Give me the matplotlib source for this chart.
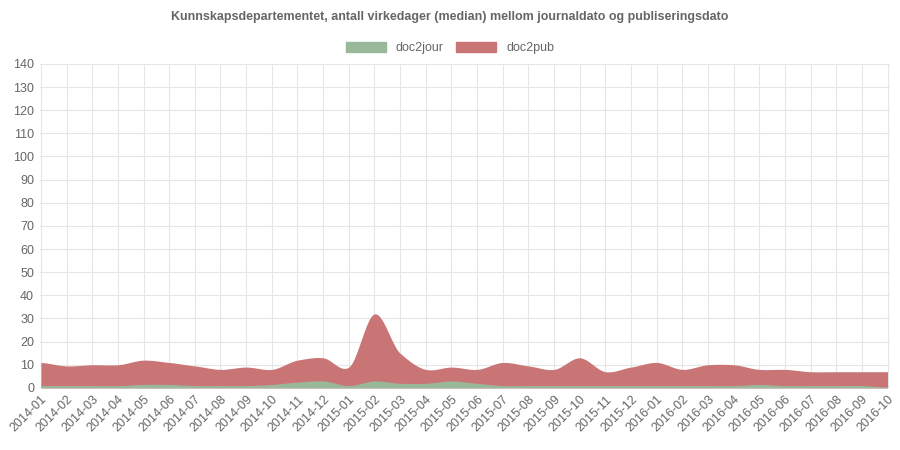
import matplotlib
matplotlib.use("Agg")
import matplotlib.pyplot as plt
import numpy as np

plt.rcParams['font.family'] = ['Liberation Sans', 'DejaVu Sans']

months = ["2014-01","2014-02","2014-03","2014-04","2014-05","2014-06","2014-07","2014-08","2014-09","2014-10","2014-11","2014-12",
          "2015-01","2015-02","2015-03","2015-04","2015-05","2015-06","2015-07","2015-08","2015-09","2015-10","2015-11","2015-12",
          "2016-01","2016-02","2016-03","2016-04","2016-05","2016-06","2016-07","2016-08","2016-09","2016-10"]
doc2pub = [11,9.5,10,10,12,11,9.5,8,9,8,12,13,9,32,15,8,9,8,11,9.5,8,13,7,9,11,8,10,10,8,8,7,7,7,7]
doc2jour = [1,1,1,1,1.5,1.5,1,1,1,1.5,2.5,3,1,3,2,2,3,2,1,1,1,1,1,1,1,1,1,1,1.5,1,1,1,1,0.3]

def smooth(y, n=20, t=0.4):
    y = np.asarray(y, float); x = np.arange(len(y))
    xs, ys = [], []
    for i in range(len(y)-1):
        m0 = t*(y[min(i+1,len(y)-1)]-y[max(i-1,0)])
        m1 = t*(y[min(i+2,len(y)-1)]-y[i])
        s = np.linspace(0,1,n,endpoint=False)
        h00=2*s**3-3*s**2+1; h10=s**3-2*s**2+s; h01=-2*s**3+3*s**2; h11=s**3-s**2
        xs.append(x[i]+s); ys.append(h00*y[i]+h10*m0+h01*y[i+1]+h11*m1)
    xs.append([x[-1]]); ys.append([y[-1]])
    return np.concatenate(xs), np.concatenate(ys)

fig = plt.figure(figsize=(9,4.5), dpi=100)
ax = fig.add_axes([0.044, 0.138, 0.945, 0.72])
x1,y1 = smooth(doc2pub)
x2,y2 = smooth(doc2jour)
red = "#c97576"; green = "#98b899"
ax.fill_between(x1, 0, y1, color=red, lw=0, zorder=2)
ax.fill_between(x2, 0, y2, color=green, lw=0, zorder=3)
ax.set_xlim(-0.05, len(months)-0.9)
ax.set_ylim(0,140)
ax.set_yticks(range(0,141,10))
ax.set_xticks(range(len(months)))
ax.set_xticklabels(months, rotation=45, ha="right", rotation_mode="anchor")
ax.tick_params(colors="#666666", labelsize=9, length=0, pad=4)
ax.grid(True, color="#e6e6e6", lw=0.8, zorder=0)
for s in ax.spines.values(): s.set_visible(False)
ax.axhline(0, color="#bbbbbb", lw=1, zorder=4)
fig.suptitle("Kunnskapsdepartementet, antall virkedager (median) mellom journaldato og publiseringsdato",
             y=0.975, fontsize=9, fontweight="bold", color="#666666")
from matplotlib.patches import Patch
fig.legend(handles=[Patch(color=green,label="doc2jour"),Patch(color=red,label="doc2pub")],
           loc="center", bbox_to_anchor=(0.5,0.893), ncol=2, frameon=False, fontsize=9,
           handlelength=3.2, handleheight=0.9, labelcolor="#666666", columnspacing=1)
fig.savefig("out.png")
